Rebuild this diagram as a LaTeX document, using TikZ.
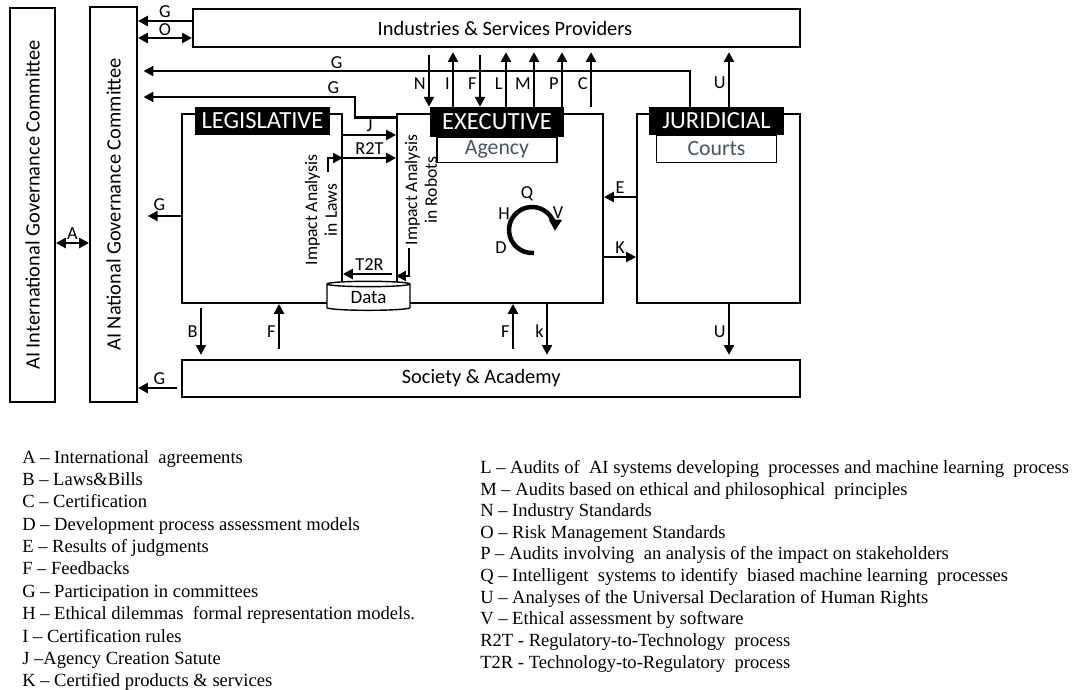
\documentclass[tikz,border=0pt]{standalone}
\usepackage{fontspec}
\setmainfont{Carlito}
\newfontfamily\legendfont{Liberation Serif}
\usetikzlibrary{positioning,arrows.meta,shapes.geometric}
\definecolor{slate}{HTML}{44546A}

\begin{document}
\begin{tikzpicture}[x=0.025cm, y=-0.025cm,
>={Triangle[length=7pt,width=7pt]},
box/.style={draw, line width=1.3pt, inner sep=0pt, font=\fontsize{14.5}{16}\selectfont},
tag/.style={fill=black, text=white, inner sep=0pt, font=\fontsize{17.5}{19}\selectfont},
sub/.style={draw, line width=1pt, fill=white, text=slate, inner sep=0pt,
  minimum width=3cm, font=\fontsize{15.5}{17}\selectfont},
arr/.style={->, line width=1.8pt, every node/.style={lbl}},
dbl/.style={<->, line width=1.8pt, every node/.style={lbl}},
lbl/.style={font=\fontsize{13}{15}\selectfont, inner sep=1.5pt},
legend/.style={align=left, inner sep=0pt}]
\useasboundingbox (0,0) rectangle (1080,690);

\node[box, minimum width=1.125cm, minimum height=9.85cm] (intl) at (32.5,205) {\rotatebox{90}{AI International Governance Committee}};
\node[box, minimum width=1.175cm, minimum height=9.875cm] (nat) at (113.5,204.5) {\rotatebox{90}{AI National Governance Committee}};
\node[box, minimum width=15.175cm, minimum height=0.95cm] (ind) at (496.5,28) {\hspace*{12pt}Industries \& Services Providers};
\node[box, minimum width=15.45cm, minimum height=0.925cm] (soc) at (491,378.5) {Society \& Academy\hspace*{14pt}};

\node[box, minimum width=4cm, minimum height=4.725cm] (leg) at (262,208.5) {};
\node[box, minimum width=5.15cm, minimum height=4.725cm] (exe) at (500,208.5) {};
\node[box, minimum width=4.075cm, minimum height=4.725cm] (jur) at (718.5,208.5) {};

\node[tag, minimum width=3.375cm, minimum height=0.7cm] (legtag) at (262.5,121) {LEGISLATIVE};
\node[tag, minimum width=3.35cm, minimum height=0.75cm] (exetag) at (497,122) {EXECUTIVE};
\node[sub, minimum height=0.625cm, below=-0.5pt of exetag] (agency) {Agency};
\node[tag, minimum width=3.375cm, minimum height=0.7cm] (jurtag) at (716.5,121) {JURIDICIAL};
\node[sub, minimum height=0.675cm, below=-0.5pt of jurtag] (courts) {Courts};

\node[draw, cylinder, shape border rotate=90, aspect=0.15, fill=white, line width=1pt,
  minimum width=2.075cm, minimum height=0.725cm, inner sep=0pt,
  font=\fontsize{13.5}{15}\selectfont] (data) at (368.5,297.5) {\raisebox{-4pt}{Data}};

\node[rotate=90, align=center, font=\fontsize{12.5}{14}\selectfont] (lawstext) at (321,210) {Impact Analysis\\in Laws};
\node[rotate=90, align=center, font=\fontsize{12.5}{14}\selectfont] (robotstext) at (421,190) {Impact Analysis\\in Robots};
\coordinate (laws) at (328,172);
\coordinate (robots) at (409,248);

\draw[arr] (ind.west |- 0,21) -- node[above]{G} (nat.east |- 0,21);
\draw[dbl] (nat.east |- 0,38) -- node[above, inner sep=0.5pt]{O} (ind.west |- 0,38);
\draw[arr, shorten >=4pt] (jurtag.north -| 690,0) |- node[above, pos=0.82, inner sep=0.5pt]{G} (nat.east |- 0,71);
\draw[arr, shorten >=4pt] ([yshift=-3pt]exe.north west) -| (355,97) -- node[above, pos=0.1]{G} (nat.east |- 0,97);
\draw[arr, shorten >=7pt] (leg.west |- 0,216) -- node[above, inner sep=3pt]{G} (nat.east |- 0,216);
\draw[arr, shorten <=3pt] (soc.west |- 0,388) -- node[above]{G} (nat.east |- 0,388);
\draw[dbl] (intl.east |- 0,243) -- node[above]{A} (nat.west |- 0,243);

\foreach \x/\l in {453/I, 506/L, 534/M, 562/P, 591/C}
  \draw[arr, shorten >=3pt] (exetag.north -| \x,0) -- node[left, pos=0.4]{\l} (ind.south -| \x,0);
\foreach \x/\l in {429/N, 480/F}
  \draw[arr, shorten <=5pt] (ind.south -| \x,0) -- node[left, pos=0.6]{\l} (exetag.north -| \x,0);
\draw[arr, shorten >=3pt] (jurtag.north -| 729,0) -- node[left, pos=0.4]{U} (ind.south -| 729,0);

\draw[arr] (leg.east |- 0,135) -- node[above]{J} (exe.west |- 0,135);
\draw[arr] (leg.east |- 0,158) -- node[above]{R2T} (exe.west |- 0,158);
\draw[arr] (laws) |- (leg.east |- 0,158);
\draw[arr, shorten <=3pt] (exe.west |- 0,274) -- node[above]{T2R} (leg.east |- 0,274);
\draw[arr] (robots) |- (exe.west |- 0,276);

\draw[arr] (jur.west |- 0,197) -- node[above]{E} (exe.east |- 0,197);
\draw[arr] (exe.east |- 0,257) -- node[above]{K} (jur.west |- 0,257);

\draw[arr, shorten <=3pt, shorten >=3pt] (leg.south -| 201,0) -- node[left]{B} (soc.north -| 201,0);
\draw[arr, shorten <=7pt] (soc.north -| 279,0) -- node[left]{F} (leg.south -| 279,0);
\draw[arr, shorten <=7pt] (soc.north -| 513,0) -- node[left]{F} (exe.south -| 513,0);
\draw[arr, shorten >=3pt] (exe.south -| 547,0) -- node[left]{k} (soc.north -| 547,0);
\draw[arr, shorten >=3pt] (jur.south -| 729,0) -- node[left]{U} (soc.north -| 729,0);

\node[lbl] (q) at (527,194) {Q};
\node[lbl] (h) at (504,214) {H};
\node[lbl] (v) at (558,213) {V};
\node[lbl] (d) at (501,248) {D};
\draw[->, line width=3.2pt, >={Triangle[length=8pt,width=9pt]}] (532,230) ++(85:23) arc[start angle=85, end angle=362, radius=23];

\node[legend, anchor=north west, font=\legendfont\fontsize{13.2}{15.9}\selectfont] (keyleft) at (22,450)
{A – International\ \ agreements\\
B – Laws\&Bills\\
C – Certification\\
D – Development process assessment models\\
E – Results of judgments\\
F – Feedbacks\\
G – Participation in committees\\
H – Ethical dilemmas\ \ formal representation models.\\
I – Certification rules\\
J –Agency Creation Satute\\
K – Certified products \& services};
\node[legend, anchor=north west, font=\legendfont\fontsize{13.2}{15.4}\selectfont] (keyright) at (480,460)
{L – Audits of\ \ AI systems developing\ \ processes and machine learning\ \ process\\
M – Audits based on ethical and philosophical\ \ principles\\
N – Industry Standards\\
O – Risk Management Standards\\
P – Audits involving\ \ an analysis of the impact on stakeholders\\
Q – Intelligent\ \ systems to identify\ \ biased machine learning\ \ processes\\
U – Analyses of the Universal Declaration of Human Rights\\
V – Ethical assessment by software\\
R2T - Regulatory-to-Technology\ \ process\\
T2R - Technology-to-Regulatory\ \ process};
\end{tikzpicture}
\end{document}
